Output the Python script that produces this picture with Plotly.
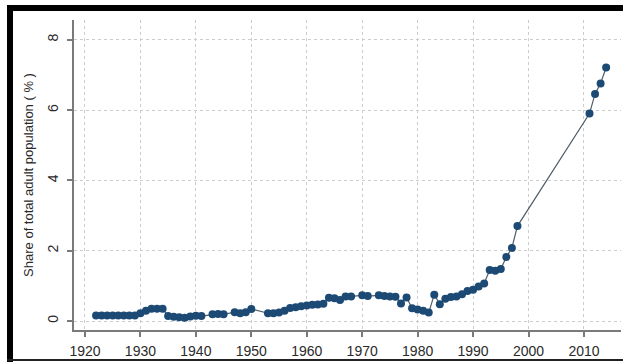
import plotly.graph_objects as go

years = [1922, 1923, 1924, 1925, 1926, 1927, 1928, 1929, 1930, 1931, 1932, 1933, 1934,
         1935, 1936, 1937, 1938, 1939, 1940, 1941, 1943, 1944, 1945, 1947, 1948, 1949,
         1950, 1953, 1954, 1955, 1956, 1957, 1958, 1959, 1960, 1961, 1962, 1963, 1964,
         1965, 1966, 1967, 1968, 1970, 1971, 1973, 1974, 1975, 1976, 1977, 1978, 1979,
         1980, 1981, 1982, 1983, 1984, 1985, 1986, 1987, 1988, 1989, 1990, 1991, 1992,
         1993, 1994, 1995, 1996, 1997, 1998, 2011, 2012, 2013, 2014]
share = [0.16, 0.16, 0.16, 0.16, 0.16, 0.16, 0.16, 0.16, 0.22, 0.29, 0.35, 0.35, 0.35,
         0.14, 0.12, 0.11, 0.09, 0.13, 0.15, 0.14, 0.19, 0.20, 0.19, 0.25, 0.22, 0.25,
         0.34, 0.22, 0.22, 0.24, 0.29, 0.37, 0.39, 0.42, 0.44, 0.46, 0.47, 0.49, 0.66,
         0.65, 0.60, 0.70, 0.70, 0.73, 0.71, 0.73, 0.71, 0.70, 0.69, 0.50, 0.67, 0.36,
         0.33, 0.29, 0.24, 0.75, 0.48, 0.63, 0.68, 0.70, 0.76, 0.85, 0.89, 0.98, 1.07,
         1.45, 1.43, 1.48, 1.82, 2.08, 2.70, 5.90, 6.46, 6.76, 7.21]

x_ticks = [1920, 1930, 1940, 1950, 1960, 1970, 1980, 1990, 2000, 2010]
y_ticks = [0, 2, 4, 6, 8]

fig = go.Figure()
fig.add_trace(go.Scatter(
    x=years, y=share, mode="lines+markers",
    line=dict(color="#4f5c68", width=1.2),
    marker=dict(color="#1c4a74", size=8),
    showlegend=False,
))

axis_common = dict(
    showline=True, linecolor="#7a7a7a", linewidth=1.5,
    ticks="outside", ticklen=5, tickcolor="#7a7a7a", tickwidth=1.5,
    showgrid=True, gridcolor="#cccccc", griddash="dot", gridwidth=1,
    zeroline=False,
    tickfont=dict(family="Liberation Sans, Arial, sans-serif", size=14, color="#2a2a2a"),
)

fig.update_layout(
    width=623, height=362,
    margin=dict(l=74, r=2, t=20, b=32),
    paper_bgcolor="white", plot_bgcolor="white",
    font=dict(family="Liberation Sans, Arial, sans-serif", color="#2a2a2a"),
    xaxis=dict(range=[1918.02, 2016.68], tickvals=x_ticks, ticklabelstandoff=2,
               **axis_common),
    yaxis=dict(range=[-0.256, 8.563], tickvals=y_ticks, tickangle=-90,
               ticklabelstandoff=4,
               title=dict(text="Share of total adult population ( % )",
                          font=dict(size=13, color="#2a2a2a"), standoff=8),
               **axis_common),
    shapes=[
        # black frame: left bar, top bar, thin bottom edge
        dict(type="rect", xref="paper", yref="paper", x0=-67/547, x1=-61/547,
             y0=-32/310, y1=(310+15)/310, fillcolor="black", line_width=0, layer="above"),
        dict(type="rect", xref="paper", yref="paper", x0=-67/547, x1=1 + 2/547,
             y0=(310+9)/310, y1=(310+15)/310, fillcolor="black", line_width=0, layer="above"),
        dict(type="rect", xref="paper", yref="paper", x0=-67/547, x1=1 + 2/547,
             y0=-31/310, y1=-29/310, fillcolor="#222222", line_width=0, layer="above"),
    ],
)

fig.write_html("out.html")
